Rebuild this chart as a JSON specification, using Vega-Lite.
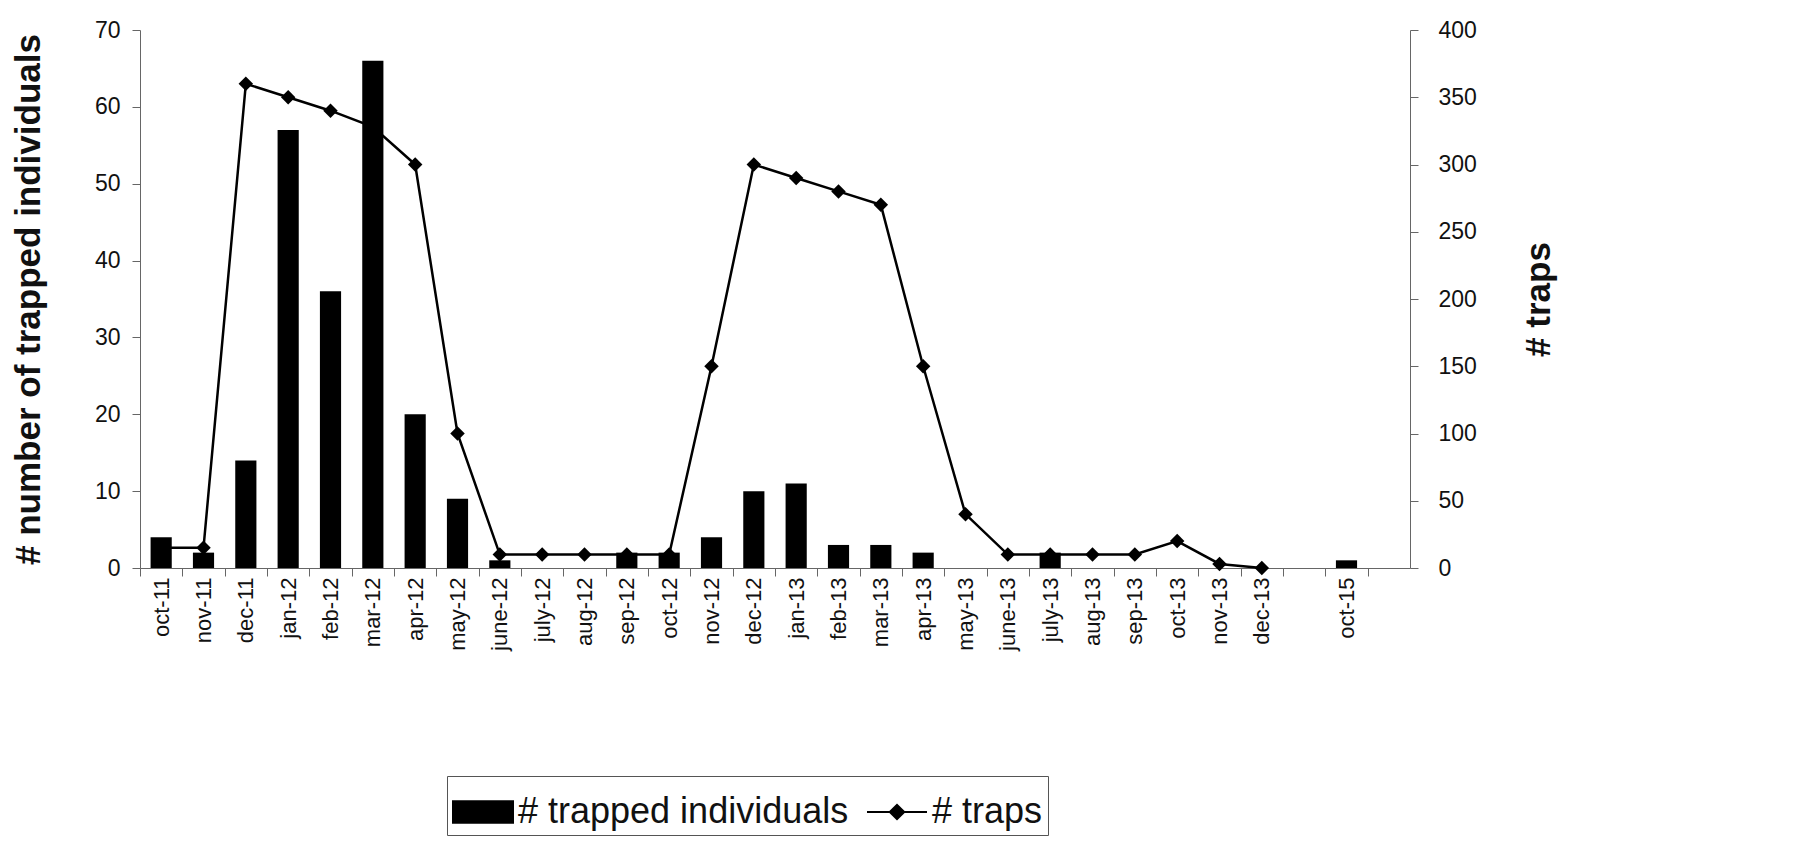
{
  "$schema": "https://vega.github.io/schema/vega-lite/v6.json",
  "width": 1270,
  "height": 538,
  "autosize": "none",
  "padding": {"left": 140, "top": 30, "right": 385, "bottom": 297},
  "background": "white",
  "data": {
    "values": [
      {"month": "oct-11", "individuals": 4, "traps": 15},
      {"month": "nov-11", "individuals": 2, "traps": 15},
      {"month": "dec-11", "individuals": 14, "traps": 360},
      {"month": "jan-12", "individuals": 57, "traps": 350},
      {"month": "feb-12", "individuals": 36, "traps": 340},
      {"month": "mar-12", "individuals": 66, "traps": 328},
      {"month": "apr-12", "individuals": 20, "traps": 300},
      {"month": "may-12", "individuals": 9, "traps": 100},
      {"month": "june-12", "individuals": 1, "traps": 10},
      {"month": "july-12", "individuals": 0, "traps": 10},
      {"month": "aug-12", "individuals": 0, "traps": 10},
      {"month": "sep-12", "individuals": 2, "traps": 10},
      {"month": "oct-12", "individuals": 2, "traps": 10},
      {"month": "nov-12", "individuals": 4, "traps": 150},
      {"month": "dec-12", "individuals": 10, "traps": 300},
      {"month": "jan-13", "individuals": 11, "traps": 290},
      {"month": "feb-13", "individuals": 3, "traps": 280},
      {"month": "mar-13", "individuals": 3, "traps": 270},
      {"month": "apr-13", "individuals": 2, "traps": 150},
      {"month": "may-13", "individuals": 0, "traps": 40},
      {"month": "june-13", "individuals": 0, "traps": 10},
      {"month": "july-13", "individuals": 2, "traps": 10},
      {"month": "aug-13", "individuals": 0, "traps": 10},
      {"month": "sep-13", "individuals": 0, "traps": 10},
      {"month": "oct-13", "individuals": 0, "traps": 20},
      {"month": "nov-13", "individuals": 0, "traps": 3},
      {"month": "dec-13", "individuals": 0, "traps": 0},
      {"month": "oct-15", "individuals": 1}
    ]
  },
  "encoding": {
    "x": {
      "field": "month",
      "type": "nominal",
      "sort": null,
      "scale": {
        "domain": ["oct-11", "nov-11", "dec-11", "jan-12", "feb-12", "mar-12", "apr-12", "may-12", "june-12", "july-12", "aug-12", "sep-12", "oct-12", "nov-12", "dec-12", "jan-13", "feb-13", "mar-13", "apr-13", "may-13", "june-13", "july-13", "aug-13", "sep-13", "oct-13", "nov-13", "dec-13", " ", "oct-15", "  "],
        "paddingInner": 0.5,
        "paddingOuter": 0.25
      },
      "axis": {
        "title": null,
        "labelAngle": 270,
        "tickSize": 8,
        "tickOffset": -21.17,
        "labelOffset": 21.17,
        "labelPadding": 1,
        "labelFontSize": 22
      }
    }
  },
  "layer": [
    {
      "mark": {"type": "bar", "color": "black"},
      "encoding": {
        "y": {
          "field": "individuals",
          "type": "quantitative",
          "scale": {"domain": [0, 70]},
          "axis": {
            "title": "# number of trapped individuals",
            "tickCount": 7,
            "tickSize": 8,
            "labelPadding": 12,
            "titlePadding": 48
          }
        },
        "color": {
          "datum": "# trapped individuals",
          "scale": {"domain": ["# trapped individuals", "# traps"], "range": ["black", "black"]},
          "legend": {
            "orient": "none",
            "legendX": 307,
            "legendY": 746,
            "direction": "horizontal",
            "title": null,
            "strokeColor": "#555555",
            "padding": 5,
            "labelFontSize": 36,
            "labelLimit": 0,
            "labelColor": "#111111",
            "symbolSize": 3600,
            "symbolStrokeWidth": 2,
            "labelOffset": 4,
            "columnPadding": 14,
            "encode": {
              "symbols": {
                "update": {
                  "shape": {"signal": "datum.value === '# traps' ? 'M-1,0H-0.24L0,-0.24L0.24,0H1M0.24,0L0,0.24L-0.24,0Z' : 'M-1,-0.36H1V0.36H-1Z'"},
                  "fill": {"value": "black"},
                  "stroke": {"value": "black"},
                  "opacity": {"value": 1}
                }
              }
            }
          }
        }
      }
    },
    {
      "transform": [{"filter": "isValid(datum.traps)"}],
      "layer": [
        {
          "mark": {"type": "line", "strokeWidth": 2.5},
          "encoding": {
            "y": {
              "field": "traps",
              "type": "quantitative",
              "scale": {"domain": [0, 400]},
              "axis": {
                "title": "# traps",
                "orient": "right",
                "tickCount": 8,
                "tickSize": 8,
                "labelPadding": 20,
                "titleAngle": 270,
                "titlePadding": 80
              }
            },
            "color": {"datum": "# traps"}
          }
        },
        {
          "mark": {"type": "point", "shape": "diamond", "size": 210, "filled": true, "opacity": 1},
          "encoding": {
            "y": {"field": "traps", "type": "quantitative"},
            "color": {"datum": "# traps"}
          }
        }
      ]
    }
  ],
  "resolve": {"scale": {"y": "independent"}},
  "config": {
    "font": "Liberation Sans",
    "view": {"stroke": null},
    "axis": {
      "grid": false,
      "domainColor": "#666666",
      "tickColor": "#666666",
      "labelColor": "#111111",
      "labelFontSize": 23,
      "titleFontSize": 35,
      "titleFontWeight": "bold",
      "titleColor": "#111111"
    }
  }
}
